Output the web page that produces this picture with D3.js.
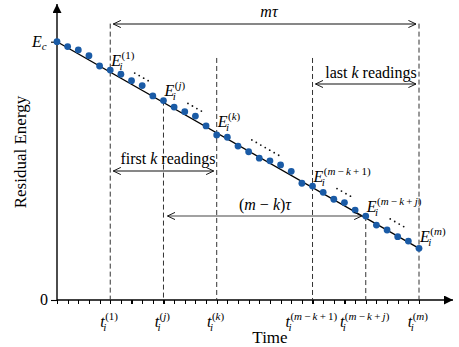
<!DOCTYPE html>
<html>
<head>
<meta charset="utf-8">
<script src="https://cdn.jsdelivr.net/npm/d3@7"></script>
<style>
  body { margin: 0; background: #fff; }
</style>
</head>
<body>
<div id="chart"></div>
<script>
// readings E_i at each sampling step (arbitrary energy units, Ec = 100)
const steps = d3.range(0, 35);
const readings = [100, 98.1, 96.8, 94.6, 90.6, 89.0, 87.4, 84.9, 83.0, 79.0,
                  77.2, 74.7, 72.9, 71.2, 67.4, 63.9, 63.0, 59.6, 57.4, 54.9,
                  53.9, 52.3, 49.8, 45.2, 44.1, 41.7, 39.0, 37.7, 34.8, 32.5,
                  29.0, 27.1, 24.5, 22.8, 20.0];
// fitted trend: value at first and last step
const trendSteps = [0, 34];
const trendValues = [100, 20];
// marked readings on the time axis
const markSteps = [5, 10, 15, 24, 29, 34];
const markLabels = ["(1)", "(j)", "(k)", "(m\u2009\u2212\u2009k\u2009+\u20091)", "(m\u2009\u2212\u2009k\u2009+\u2009j)", "(m)"];
// where the ellipsis dots start and how many
const gapStarts = [7.3, 12.3, 18.3, 26.3, 31.3];
const gapCounts = [4, 4, 7, 4, 4];

const width = 459, height = 347;
const serif = "'Liberation Serif', 'Times New Roman', Times, 'DejaVu Serif', serif";
const svg = d3.select("#chart").append("svg")
    .attr("width", width).attr("height", height)
    .attr("font-family", serif)
    .style("font-family", serif);

const x = d3.scaleLinear().domain([0, 34]).range([57, 419]);
const y = d3.scaleLinear().domain([0, 100]).range([300, 41.7]);
const trend = d3.scaleLinear().domain(trendSteps).range(trendValues);

const defs = svg.append("defs");
defs.append("marker").attr("id", "solid")
    .attr("viewBox", "0 0 10 10").attr("refX", 10).attr("refY", 5)
    .attr("markerUnits", "userSpaceOnUse")
    .attr("markerWidth", 17).attr("markerHeight", 9).attr("orient", "auto")
    .append("path").attr("d", "M0,0L10,5L0,10z").attr("fill", "#000");
defs.append("marker").attr("id", "open")
    .attr("viewBox", "0 0 10 10").attr("refX", 9.5).attr("refY", 5)
    .attr("markerUnits", "userSpaceOnUse")
    .attr("markerWidth", 8).attr("markerHeight", 8).attr("orient", "auto-start-reverse")
    .append("path").attr("d", "M0,0.5L9.5,5L0,9.5").attr("fill", "none")
    .attr("stroke", "#111").attr("stroke-width", 1.2);

// italic letters, upright digits/brackets
function richText(sel, str) {
    for (const part of str.match(/[a-z]+|[^a-z]+/g) || []) {
        sel.append("tspan").attr("font-style", /[a-z]/.test(part) ? "italic" : "normal").text(part);
    }
}

// E_i^(..) / t_i^(..) style label, returns group
function symbol(g, base, sup, x0, y0) {
    const grp = g.append("g");
    const main = grp.append("text").attr("x", x0).attr("y", y0)
        .attr("font-size", 16).attr("font-style", "italic").text(base);
    const w = main.node().getComputedTextLength();
    grp.append("text").attr("x", x0 + w - 1.5).attr("y", y0 + 4)
        .attr("font-size", 11).attr("font-style", "italic").text("i");
    const s = grp.append("text").attr("x", x0 + w + 0.5).attr("y", y0 - 7)
        .attr("font-size", 11);
    richText(s, sup);
    return grp;
}

// axes
const xAxis = svg.append("g").attr("transform", `translate(0,${y(0)})`)
    .call(d3.axisBottom(x).tickValues(steps).tickSize(4).tickFormat(""));
xAxis.select(".domain").remove();
xAxis.selectAll(".tick line").attr("stroke", "#000").attr("stroke-width", 1.1)
    .attr("shape-rendering", "crispEdges");

const yAxis = svg.append("g").attr("transform", `translate(${x(0)},0)`)
    .call(d3.axisLeft(y).tickValues([0, 100]).tickSize(6).tickFormat(""));
yAxis.select(".domain").remove();
yAxis.selectAll(".tick line").attr("stroke", "#000").attr("stroke-width", 1.1);

svg.append("line").attr("x1", x(0)).attr("x2", 453)
    .attr("y1", y(0)).attr("y2", y(0))
    .attr("stroke", "#000").attr("stroke-width", 1.4).attr("marker-end", "url(#solid)");
svg.append("line").attr("x1", x(0)).attr("x2", x(0))
    .attr("y1", y(0)).attr("y2", 4)
    .attr("stroke", "#000").attr("stroke-width", 1.4).attr("marker-end", "url(#solid)");

svg.append("text").attr("x", x(0) - 9).attr("y", y(0) + 5)
    .attr("text-anchor", "end").attr("font-size", 16).text("0");
const ec = svg.append("text").attr("x", 32).attr("y", y(100) + 5).attr("font-size", 16)
    .attr("font-style", "italic");
ec.append("tspan").text("E");
ec.append("tspan").attr("font-size", 11).attr("dy", 3).text("c");

svg.append("text").attr("transform", `translate(26,152) rotate(-90)`)
    .attr("text-anchor", "middle").attr("font-size", 17).text("Residual Energy");
svg.append("text").attr("x", 270).attr("y", 343)
    .attr("text-anchor", "middle").attr("font-size", 17).text("Time");

// dashed markers
const dashTops = [y(107), y(readings[10]), y(93.7), y(93.7), y(readings[29]), y(107)];
svg.append("g").selectAll("line").data(markSteps).join("line")
    .attr("x1", d => x(d)).attr("x2", d => x(d))
    .attr("y1", (d, i) => dashTops[i]).attr("y2", y(0))
    .attr("stroke", "#333").attr("stroke-width", 1).attr("stroke-dasharray", "5,3");

// time labels
markSteps.forEach((d, i) => {
    const g = symbol(svg, "t", markLabels[i], 0, 327);
    const b = g.node().getBBox();
    g.attr("transform", `translate(${x(d) - b.width / 2 - 1},0)`);
});

// trend line
svg.append("path")
    .datum(trendSteps)
    .attr("d", d3.line().x(d => x(d)).y(d => y(trend(d))))
    .attr("stroke", "#000").attr("stroke-width", 1.3).attr("fill", "none");

// readings
svg.append("g").selectAll("circle").data(readings).join("circle")
    .attr("cx", (d, i) => x(steps[i])).attr("cy", d => y(d))
    .attr("r", 3.4).attr("fill", "#1a5ba6");

// reading labels
markSteps.forEach((d, i) => symbol(svg, "E", markLabels[i], x(d) + 1, y(trend(d)) - 6));

// ellipsis dots
gapStarts.forEach((s, i) => {
    const pts = d3.range(gapCounts[i]).map(k => s + k * 0.42);
    svg.append("g").selectAll("circle").data(pts).join("circle")
        .attr("cx", d => x(d)).attr("cy", d => y(trend(d)) - 13)
        .attr("r", 0.9).attr("fill", "#111");
});

// span arrows
function span(x1, x2, yy, color) {
    svg.append("line").attr("x1", x1).attr("x2", x2).attr("y1", yy).attr("y2", yy)
        .attr("stroke", color).attr("stroke-width", 1.2)
        .attr("marker-start", "url(#open)").attr("marker-end", "url(#open)");
}
span(x(5) + 3, x(34) - 3, 24, "#111");
span(x(5) + 3, x(15) - 3, 171, "#111");
span(x(24) + 3, x(34) - 3, 84, "#111");
span(x(10) + 4, x(29) - 4, 216, "#444");

svg.append("text").attr("x", 269).attr("y", 17).attr("text-anchor", "middle")
    .attr("font-size", 16).attr("font-style", "italic").text("m\u03c4");
const fk = svg.append("text").attr("x", 168).attr("y", 164).attr("text-anchor", "middle").attr("font-size", 16);
fk.append("tspan").text("first ");
fk.append("tspan").attr("font-style", "italic").text("k");
fk.append("tspan").text(" readings");
const lk = svg.append("text").attr("x", 371).attr("y", 78).attr("text-anchor", "middle").attr("font-size", 16);
lk.append("tspan").text("last ");
lk.append("tspan").attr("font-style", "italic").text("k");
lk.append("tspan").text(" readings");
const mk = svg.append("text").attr("x", 265).attr("y", 210).attr("text-anchor", "middle").attr("font-size", 16);
richText(mk, "(m \u2212 k)");
mk.append("tspan").attr("font-style", "italic").text("\u03c4");
</script>
</body>
</html>
